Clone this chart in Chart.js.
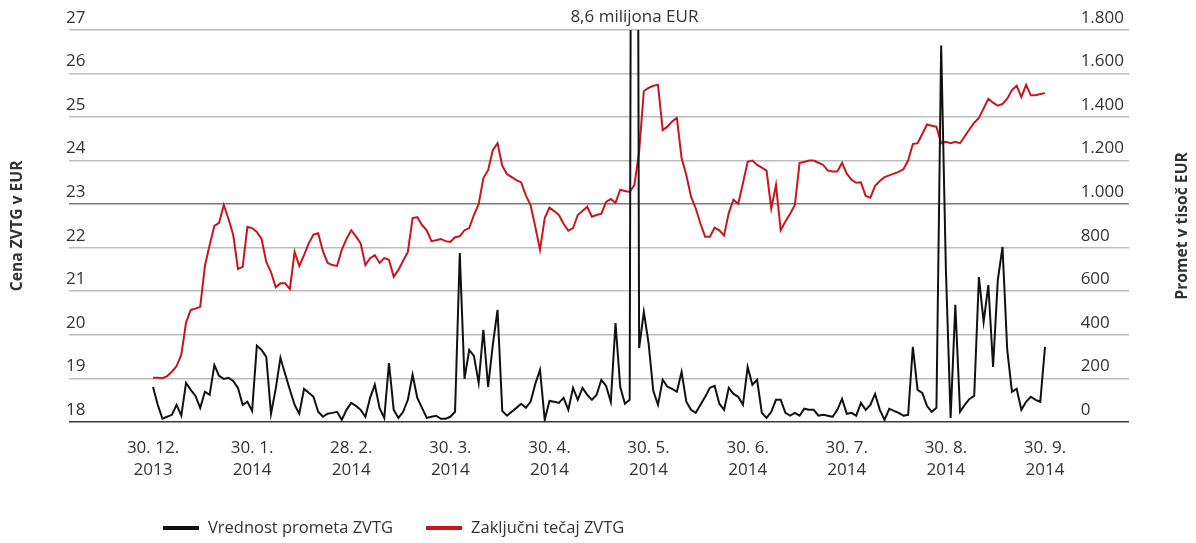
<!DOCTYPE html>
<html>
<head>
<meta charset="utf-8">
<script src="https://cdn.jsdelivr.net/npm/chart.js@4.4.1/dist/chart.umd.min.js"></script>
<style>
  html, body { margin: 0; padding: 0; background: #fff; }
  #wrap { width: 1196px; height: 543px; position: relative; }
</style>
</head>
<body>
<div id="wrap"><canvas id="chart"></canvas></div>
<script>
// podatki, odčitani s slike (en trgovalni dan = ena točka)
const monthLabels = [
  ['30. 12.', '2013'], ['30. 1.', '2014'], ['28. 2.', '2014'], ['30. 3.', '2014'], ['30. 4.', '2014'],
  ['30. 5.', '2014'], ['30. 6.', '2014'], ['30. 7.', '2014'], ['30. 8.', '2014'], ['30. 9.', '2014']
];
const monthTickIndex = [0, 21, 42, 63, 84, 105, 126, 147, 168, 189];

// promet v tisoč EUR
const volume = [
  160, 78, 14, 23, 32, 78, 28, 179, 147, 119,
  64, 138, 124, 261, 211, 197, 202, 188, 156, 78,
  92, 50, 350, 330, 298, 37, 151, 294, 220, 147,
  78, 37, 151, 133, 115, 46, 23, 37, 41, 46,
  9, 55, 87, 73, 55, 23, 110, 170, 64, 18,
  270, 55, 18, 46, 101, 216, 110, 64, 18, 23,
  28, 14, 14, 23, 46, 775, 197, 330, 303, 179,
  422, 160, 353, 514, 50, 28, 46, 64, 83, 64,
  92, 174, 239, 9, 96, 92, 87, 110, 55, 156,
  101, 156, 124, 101, 124, 193, 165, 92, 454, 160,
  83, 101, 8600, 339, 505, 362, 142, 78, 193, 161,
  151, 138, 229, 92, 55, 41, 78, 115, 156, 165,
  83, 55, 156, 128, 115, 78, 252, 170, 193, 41,
  18, 46, 101, 101, 41, 28, 41, 28, 60, 55,
  55, 28, 32, 28, 23, 55, 105, 37, 41, 28,
  87, 55, 78, 128, 55, 9, 60, 50, 41, 28,
  32, 344, 147, 133, 73, 46, 64, 1729, 700, 18,
  537, 46, 78, 105, 119, 665, 459, 628, 252, 651,
  803, 330, 138, 151, 55, 92, 115, 101, 92, 344
];

// zaključni tečaj v EUR
const closePrice = [
  19.01, 19.01, 19.0, 19.05, 19.15, 19.28, 19.54, 20.28, 20.57, 20.6,
  20.64, 21.58, 22.06, 22.5, 22.57, 22.98, 22.66, 22.29, 21.51, 21.56,
  22.48, 22.45, 22.36, 22.2, 21.67, 21.44, 21.09, 21.18, 21.18, 21.05,
  21.9, 21.58, 21.83, 22.1, 22.3, 22.33, 21.92, 21.65, 21.6, 21.58,
  21.95, 22.2, 22.4, 22.26, 22.1, 21.6, 21.76, 21.83, 21.65, 21.76,
  21.72, 21.33, 21.49, 21.7, 21.9, 22.68, 22.7, 22.52, 22.4, 22.15,
  22.17, 22.2, 22.15, 22.13, 22.24, 22.26, 22.4, 22.45, 22.75, 23.0,
  23.6, 23.78, 24.24, 24.4, 23.88, 23.69, 23.62, 23.55, 23.5, 23.2,
  22.98, 22.48, 21.95, 22.68, 22.92, 22.84, 22.75, 22.55, 22.39, 22.45,
  22.75, 22.84, 22.94, 22.71, 22.75, 22.78, 23.05, 23.12, 23.03, 23.33,
  23.3, 23.28, 23.44, 24.2, 25.6, 25.67, 25.72, 25.74, 24.7, 24.78,
  24.9, 24.98, 24.06, 23.67, 23.17, 22.9, 22.55, 22.25, 22.25, 22.46,
  22.4, 22.28, 22.8, 23.1, 23.01, 23.48, 23.97, 24.0, 23.9, 23.84,
  23.77, 22.9, 23.44, 22.4, 22.6, 22.78, 22.98, 23.95, 23.97, 24.0,
  24.0, 23.95, 23.9, 23.77, 23.75, 23.75, 23.95, 23.7, 23.56, 23.49,
  23.5, 23.19, 23.15, 23.42, 23.53, 23.62, 23.66, 23.7, 23.74, 23.8,
  24.0, 24.38, 24.4, 24.61, 24.83, 24.8, 24.78, 24.4, 24.43, 24.4,
  24.43, 24.4, 24.56, 24.72, 24.87, 24.98, 25.2, 25.42, 25.33, 25.26,
  25.3, 25.42, 25.62, 25.72, 25.46, 25.74, 25.5, 25.5, 25.53, 25.55
];

const seriesNames = ['Vrednost prometa ZVTG', 'Zaključni tečaj ZVTG'];
const seriesColors = ['#111111', '#c8161e'];
const leftTitle = 'Cena ZVTG v EUR';
const rightTitle = 'Promet v tisoč EUR';
const spikeNote = '8,6 milijona EUR';

const FONT = '"Open Sans", "Noto Sans", sans-serif';
const TEXT = '#333';

function thousands(v) {
  return String(v).replace(/\B(?=(\d{3})+(?!\d))/g, '.');
}

// naslovi osi, opomba nad konico in legenda
const extraText = {
  id: 'extraText',
  afterDraw(chart) {
    const { ctx, chartArea, scales } = chart;
    const midY = (chartArea.top + chartArea.bottom) / 2;
    ctx.save();
    ctx.fillStyle = TEXT;
    ctx.textAlign = 'center';
    ctx.textBaseline = 'middle';
    ctx.font = 'bold 15.7px ' + FONT;
    [[18, leftTitle], [1183, rightTitle]].forEach(([x, t]) => {
      ctx.save();
      ctx.translate(x, midY);
      ctx.rotate(-Math.PI / 2);
      ctx.fillText(t, 0, 0);
      ctx.restore();
    });

    // opomba nad najvišjo vrednostjo prometa
    const peak = volume.indexOf(Math.max(...volume));
    ctx.font = '17px ' + FONT;
    ctx.fillText(spikeNote, scales.x.getPixelForValue(peak), 17);

    // legenda
    let x = 163;
    const y = 528;
    ctx.textAlign = 'left';
    ctx.font = '16.5px ' + FONT;
    seriesNames.forEach((name, i) => {
      ctx.strokeStyle = seriesColors[i];
      ctx.lineWidth = 4;
      ctx.beginPath();
      ctx.moveTo(x, y);
      ctx.lineTo(x + 36, y);
      ctx.stroke();
      ctx.fillStyle = TEXT;
      ctx.fillText(name, x + 45, y);
      x += 45 + ctx.measureText(name).width + 33;
    });
    ctx.restore();
  }
};

new Chart(document.getElementById('chart'), {
  type: 'line',
  data: {
    datasets: [
      {
        label: seriesNames[0],
        data: volume.map((v, i) => ({ x: i, y: v })),
        yAxisID: 'yVol',
        borderColor: seriesColors[0],
        borderWidth: 2,
        pointRadius: 0,
        tension: 0
      },
      {
        label: seriesNames[1],
        data: closePrice.map((v, i) => ({ x: i, y: v })),
        yAxisID: 'yPrice',
        borderColor: seriesColors[1],
        borderWidth: 2,
        pointRadius: 0,
        tension: 0
      }
    ]
  },
  options: {
    responsive: true,
    maintainAspectRatio: false,
    animation: false,
    layout: { padding: { left: 69, right: 67, top: 30, bottom: 47 } },
    plugins: {
      legend: { display: false },
      tooltip: { enabled: false }
    },
    scales: {
      x: {
        type: 'linear',
        min: -17.8,
        max: 206.8,
        border: { display: false },
        grid: { display: false, drawTicks: false },
        afterBuildTicks: (axis) => { axis.ticks = monthTickIndex.map(v => ({ value: v })); },
        ticks: {
          autoSkip: false,
          maxRotation: 0,
          padding: 15,
          color: TEXT,
          font: { family: FONT, size: 17, lineHeight: 1.3 },
          callback: (v) => monthLabels[monthTickIndex.indexOf(v)]
        }
      },
      yPrice: {
        position: 'left',
        min: 18,
        max: 27,
        border: { display: false },
        grid: {
          drawTicks: false,
          lineWidth: 1.5,
          color: (c) => c.tick.value === 18 ? '#3a3a3a' : (c.tick.value === 23 ? '#7a7a7a' : '#bdbdbd')
        },
        ticks: {
          stepSize: 1,
          mirror: true,
          crossAlign: 'near',
          padding: -1,
          labelOffset: -12,
          color: TEXT,
          font: { family: FONT, size: 17 }
        }
      },
      yVol: {
        position: 'right',
        min: 0,
        max: 1800,
        border: { display: false },
        grid: { display: false, drawTicks: false },
        ticks: {
          stepSize: 200,
          mirror: true,
          crossAlign: 'far',
          padding: -3,
          labelOffset: -12,
          color: TEXT,
          font: { family: FONT, size: 17 },
          callback: (v) => thousands(v)
        }
      }
    }
  },
  plugins: [extraText]
});
</script>
</body>
</html>
